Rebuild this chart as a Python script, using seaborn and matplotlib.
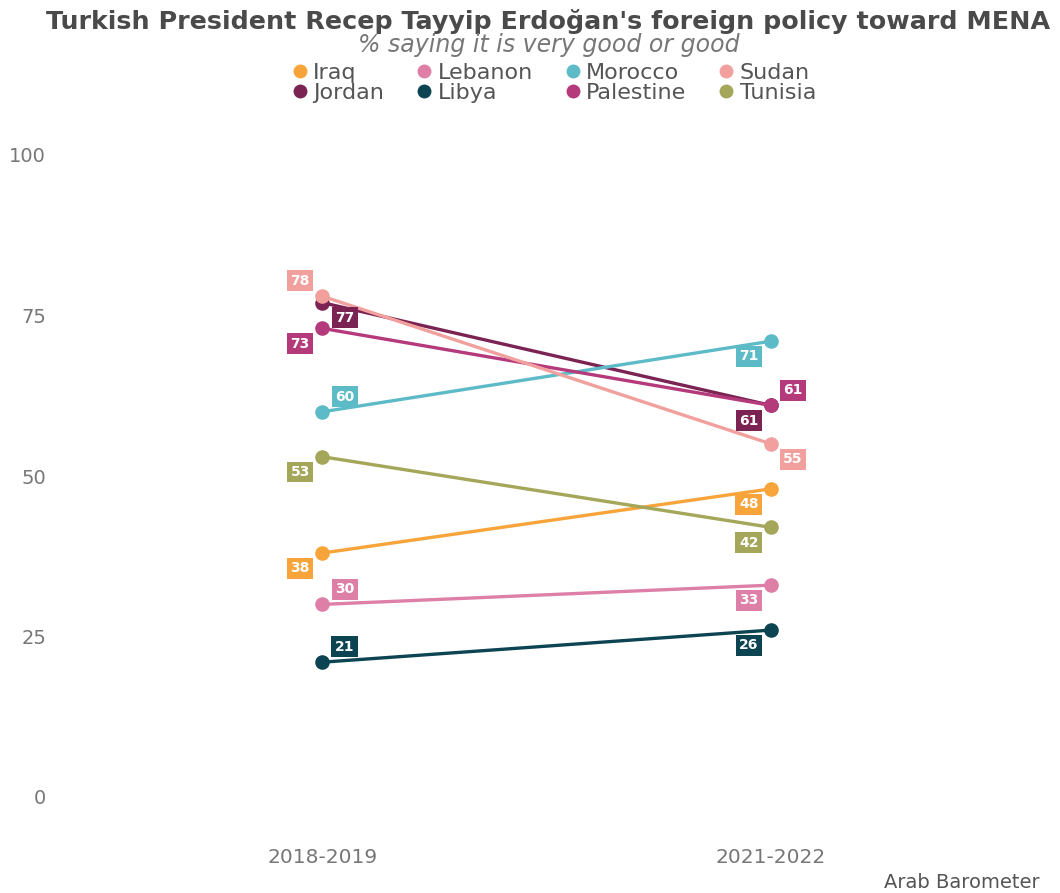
import matplotlib
matplotlib.use("Agg")
import matplotlib.pyplot as plt
import seaborn as sns
import pandas as pd

periods = ["2018-2019", "2021-2022"]
countries = ["Iraq", "Jordan", "Lebanon", "Libya", "Morocco", "Palestine", "Sudan", "Tunisia"]
iraq = [38, 48]
jordan = [77, 61]
lebanon = [30, 33]
libya = [21, 26]
morocco = [60, 71]
palestine = [73, 61]
sudan = [78, 55]
tunisia = [53, 42]
values = {"Iraq": iraq, "Jordan": jordan, "Lebanon": lebanon, "Libya": libya,
          "Morocco": morocco, "Palestine": palestine, "Sudan": sudan, "Tunisia": tunisia}

colors = {"Iraq": "#F7A43A", "Jordan": "#7B2453", "Lebanon": "#DD7FA6", "Libya": "#0D4452",
          "Morocco": "#5DBBC8", "Palestine": "#B53A7B", "Sudan": "#F2A09E", "Tunisia": "#A4A659"}

# label placement directions (dx, dy sign) per country per period
dirs = {
    "Iraq": [(-1, -1), (-1, -1)],
    "Jordan": [(1, -1), (-1, -1)],
    "Lebanon": [(1, 1), (-1, -1)],
    "Libya": [(1, 1), (-1, -1)],
    "Morocco": [(1, 1), (-1, -1)],
    "Palestine": [(-1, -1), (1, 1)],
    "Sudan": [(-1, 1), (1, -1)],
    "Tunisia": [(-1, -1), (-1, -1)],
}

rows = []
for c in countries:
    for p, v in zip(periods, values[c]):
        rows.append({"country": c, "period": p, "value": v})
df = pd.DataFrame(rows)
df["x"] = df["period"].map({p: i for i, p in enumerate(periods)})

sns.set_theme(style="white")
FONT = ["DejaVu Sans"]
plt.rcParams["font.family"] = FONT

fig = plt.figure(figsize=(10.6, 8.93), dpi=100)
ax = fig.add_axes([60 / 1060, 1 - 797 / 893, 980 / 1060, (797 - 155) / 893])

sns.lineplot(data=df, x="x", y="value", hue="country", hue_order=countries,
             palette=colors, marker="o", markersize=10.5, markeredgewidth=0,
             linewidth=2.4, ax=ax, legend=True)

for c in countries:
    for i, v in enumerate(values[c]):
        dx, dy = dirs[c][i]
        ax.annotate(str(v), xy=(i, v), xytext=(dx * 16, dy * 11), textcoords="offset points",
                    ha="center", va="center", fontsize=10, fontweight="bold", color="white",
                    bbox=dict(boxstyle="square,pad=0.25", fc=colors[c], ec="none"), zorder=5)

ax.set_xlim(-0.585, 1.6)
ax.set_ylim(0, 100)
ax.set_xticks([0, 1])
ax.set_xticklabels(periods)
ax.set_yticks([0, 25, 50, 75, 100])
ax.set_xlabel("")
ax.set_ylabel("")
ax.tick_params(axis="x", pad=37, labelsize=14.5, labelcolor="#777777", length=0)
ax.tick_params(axis="y", pad=10, labelsize=14, labelcolor="#777777", length=0)
for s in ax.spines.values():
    s.set_visible(False)
ax.grid(False)

handles, labels = ax.get_legend_handles_labels()
for h in handles:
    h.set_linestyle("none")
    h.set_markersize(10)
ax.legend(handles, labels, ncol=4, loc="center", bbox_to_anchor=(553 / 1060, 1 - 83 / 893),
          bbox_transform=fig.transFigure, frameon=False, fontsize=16, handletextpad=0.15,
          columnspacing=1.35, labelspacing=0.0, handlelength=0.9, borderaxespad=0,
          labelcolor="#555555")

fig.text(548 / 1060, 1 - 21 / 893, "Turkish President Recep Tayyip Erdoğan's foreign policy toward MENA",
         ha="center", va="center", fontsize=18.3, fontweight="bold", color="#4a4a4a")
fig.text(549 / 1060, 1 - 45 / 893, "% saying it is very good or good",
         ha="center", va="center", fontsize=17, fontstyle="italic", color="#777777")
fig.text(1040 / 1060, 1 - 883 / 893, "Arab Barometer", ha="right", va="center",
         fontsize=14, color="#555555")

fig.savefig("out.png", dpi=100, facecolor="white")
